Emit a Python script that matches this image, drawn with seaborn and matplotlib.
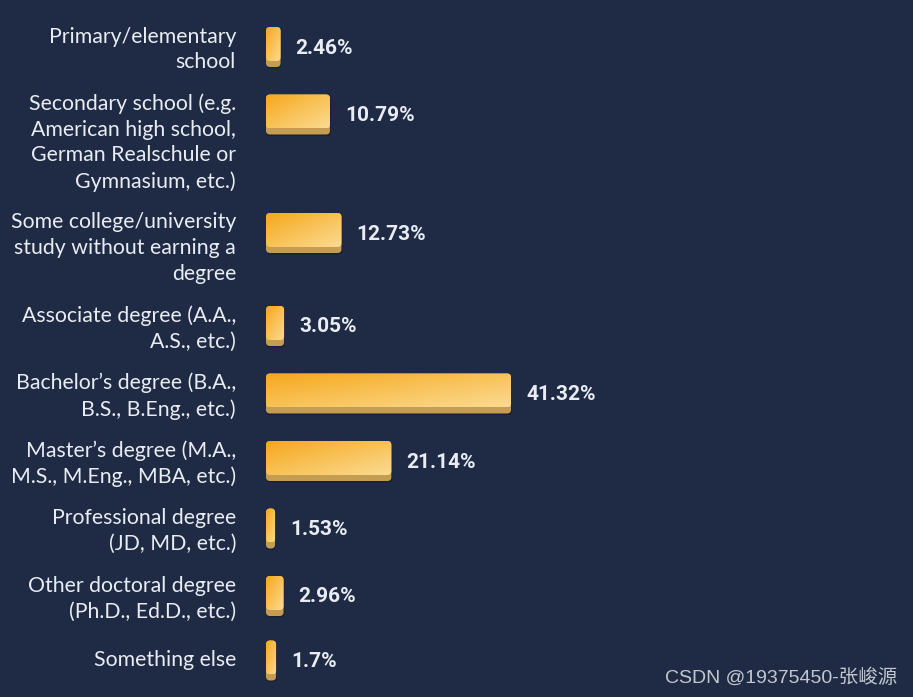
import numpy as np
import pandas as pd
import matplotlib.pyplot as plt
import seaborn as sns
from matplotlib.patches import FancyBboxPatch
from matplotlib.colors import to_rgb

# data
categories = [
    'Primary/elementary\nschool',
    'Secondary school (e.g.\nAmerican high school,\nGerman Realschule or\nGymnasium, etc.)',
    'Some college/university\nstudy without earning a\ndegree',
    'Associate degree (A.A.,\nA.S., etc.)',
    'Bachelor\u2019s degree (B.A.,\nB.S., B.Eng., etc.)',
    'Master\u2019s degree (M.A.,\nM.S., M.Eng., MBA, etc.)',
    'Professional degree\n(JD, MD, etc.)',
    'Other doctoral degree\n(Ph.D., Ed.D., etc.)',
    'Something else',
]
percent = [2.46, 10.79, 12.73, 3.05, 41.32, 21.14, 1.53, 2.96, 1.7]
value_labels = ['2.46%', '10.79%', '12.73%', '3.05%', '41.32%', '21.14%', '1.53%', '2.96%', '1.7%']

# colours
bg = '#1f2a44'
text_col = '#e9edf3'
grad_start = '#f6a81c'
grad_end = '#fbdb92'
edge_col = '#c49c52'

# layout, in pixels (y axis runs in pixels, x axis in percent)
W, H = 913, 697
LINE = 25.5      # height of one text line
GAP = 16.5       # space between rows
BAR = 40         # bar incl. bottom edge
BODY = 34        # coloured face of the bar
PX_PER_PCT = 5.93
X0 = 266         # where the bars start

n_lines = np.array([c.count('\n') + 1 for c in categories])
row_h = np.maximum(n_lines * LINE, BAR)
tops = 24 + np.concatenate([[0], np.cumsum(row_h[:-1] + GAP)])
bar_y = tops + np.minimum(row_h, 46) / 2
label_y = tops + row_h / 2

df = pd.DataFrame({'category': categories, 'percent': percent, 'y': bar_y})

sns.set_style('white')
plt.rcParams['font.family'] = ['Lato', 'DejaVu Sans']

fig = plt.figure(figsize=(W / 100, H / 100), dpi=100)
fig.patch.set_facecolor(bg)
ax = fig.add_axes([X0 / W, 0, 1 - X0 / W, 1])
ax.set_facecolor(bg)

sns.barplot(data=df, x='percent', y='y', orient='y', native_scale=True,
            width=BAR / np.diff(bar_y).min(), color=grad_start,
            errorbar=None, ax=ax)

# swap the flat bars for rounded, gradient ones
r = 4 / PX_PER_PCT
style = f'round,pad=0,rounding_size={r}'
c0, c1 = np.array(to_rgb(grad_start)), np.array(to_rgb(grad_end))
u = np.linspace(0, 1, 200)
v = np.linspace(0, 1, 40)
t = (u[None, :] + v[:, None]) / 2
img = c0[None, None, :] * (1 - t[..., None]) + c1[None, None, :] * t[..., None]

for p in list(ax.patches):
    x0, y0 = p.get_x(), p.get_y()
    w, h = p.get_width(), p.get_height()
    p.set_visible(False)
    # soft drop shadow
    ax.add_patch(FancyBboxPatch((x0, y0 + 1.5), w + 0.15, h, boxstyle=style,
                                mutation_aspect=PX_PER_PCT, fc='#0e1424',
                                ec='none', alpha=0.45, zorder=1))
    # darker bottom edge
    ax.add_patch(FancyBboxPatch((x0, y0), w, h, boxstyle=style,
                                mutation_aspect=PX_PER_PCT, fc=edge_col,
                                ec='none', zorder=2))
    face = FancyBboxPatch((x0, y0), w, BODY, boxstyle=style,
                          mutation_aspect=PX_PER_PCT, fc='none', ec='none',
                          zorder=3)
    ax.add_patch(face)
    im = ax.imshow(img, extent=(x0, x0 + w, y0 + BODY, y0), aspect='auto',
                   origin='upper', zorder=3, interpolation='bilinear')
    im.set_clip_path(face)

# value labels
for pct, lbl, yb in zip(percent, value_labels, bar_y):
    ax.annotate(lbl, xy=(pct, yb + 1), xytext=(15 * 0.72, 0),
                textcoords='offset points', ha='left', va='center',
                fontsize=15, fontweight='bold', family='Roboto',
                color=text_col)

# category labels
for cat, ly in zip(categories, label_y):
    ax.annotate(cat, xy=(0, ly), xytext=(-30 * 0.72, 0),
                textcoords='offset points', ha='right', va='center',
                multialignment='right', fontsize=15.3, color=text_col,
                linespacing=1.36, annotation_clip=False)

ax.set_xlim(0, (W - X0) / PX_PER_PCT)
ax.set_ylim(H, 0)
ax.axis('off')

fig.text(897 / W, 1 - 677 / H, 'CSDN @19375450-张峻源', ha='right', va='center',
         fontsize=14, color='#c3c7ce',
         family=['Liberation Sans', 'Noto Sans CJK SC'])

fig.savefig('out.png', dpi=100, facecolor=bg)
